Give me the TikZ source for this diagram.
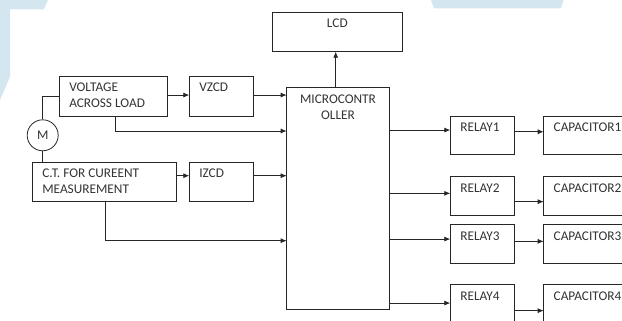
\documentclass[tikz,border=0pt]{standalone}
\usepackage{fontspec}
\setmainfont{Carlito}
\usetikzlibrary{arrows.meta}
\definecolor{wmblue}{RGB}{212,230,240}
\newcommand{\blocktext}[3]{\parbox[t][#2][t]{#1}{\raggedright\rule{0pt}{15.3pt}#3}}
\newcommand{\blockmid}[3]{\parbox[t][#2][t]{#1}{\centering\rule{0pt}{15.3pt}#3}}
\tikzset{
  block/.style={draw=black!85, line width=0.8pt, anchor=north west, inner xsep=10pt, inner ysep=0pt, outer sep=0pt, text=black!80, font=\fontsize{13.3}{16}\selectfont},
  arr/.style={draw=black!85, line width=0.8pt, -{Latex[length=6pt,width=5pt]}},
  wire/.style={draw=black!85, line width=0.8pt}
}
\begin{document}
\begin{tikzpicture}[x=1pt, y=-1pt]
\useasboundingbox (0,0) rectangle (622,321);
\clip (0,0) rectangle (622,321);
% watermark
\fill[wmblue] (0,0)--(48,0)--(44,9.3)--(10,9.3)--(10,77)--(0,100)--cycle;
\fill[wmblue] (431,0)--(563.5,0)--(561,8.3)--(434,8.3)--cycle;

% input side
\node[block] (volt) at (59.3,76.7) {\blocktext{88.4pt}{39.3pt}{VOLTAGE\\ACROSS LOAD}};
\node[block] (vzcd) at (189.3,76.7) {\blocktext{44pt}{39.3pt}{VZCD}};
\node[block] (ct) at (32.3,162.3) {\blocktext{124.4pt}{39.4pt}{C.T. FOR CUREENT\\MEASUREMENT}};
\node[block] (izcd) at (189.3,162.3) {\blocktext{44pt}{39.4pt}{IZCD}};
\node[draw=black!85, line width=0.8pt, circle, minimum size=31pt, inner sep=0pt, text=black!80, font=\fontsize{13.3}{16}\selectfont] (motor) at (42.7,135.3) {M};

% controller and display
\node[block] (micro) at (286.7,87.7) {\blockmid{82.6pt}{221.6pt}{MICROCONTR\\[1pt]OLLER}};
\node[block] (lcd) at (272.7,12.3) {\blockmid{109.3pt}{39.4pt}{LCD}};

% relays and capacitors
\node[block] (relay1) at (450.3,116) {\blocktext{44.4pt}{38.7pt}{RELAY1}};
\node[block] (relay2) at (450.3,176.7) {\blocktext{44.4pt}{38.7pt}{RELAY2}};
\node[block] (relay3) at (450.3,224.7) {\blocktext{44.4pt}{38.7pt}{RELAY3}};
\node[block] (relay4) at (450.3,284.7) {\blocktext{44.4pt}{38.7pt}{RELAY4}};
\node[block] (cap1) at (543.7,116) {\blocktext{80pt}{38.7pt}{CAPACITOR1}};
\node[block] (cap2) at (543.7,176.7) {\blocktext{80pt}{38.7pt}{CAPACITOR2}};
\node[block] (cap3) at (543.7,224.7) {\blocktext{80pt}{38.7pt}{CAPACITOR3}};
\node[block] (cap4) at (543.7,284.7) {\blocktext{80pt}{38.7pt}{CAPACITOR4}};

% connections
\draw[wire] (motor.north) |- (volt.west);
\draw[wire] (motor.south) -- (motor.south |- ct.north);
\draw[arr] ([yshift=1.3pt]volt.east) -- ([yshift=1.3pt]vzcd.west);
\draw[arr] ([yshift=1.3pt]vzcd.east) -- ([yshift=1.3pt]vzcd.east -| micro.west);
\draw[arr] ([xshift=2.2pt]volt.south) |- ([yshift=-43.3pt]micro.north west);
\draw[arr] ([yshift=6.3pt]ct.east) -- ([yshift=6.3pt]izcd.west);
\draw[arr] ([yshift=6.3pt]izcd.east) -- ([yshift=6.3pt]izcd.east -| micro.west);
\draw[arr] ([xshift=0.8pt]ct.south) |- ([yshift=-153pt]micro.north west);
\draw[arr] ([xshift=-2.3pt]micro.north) -- ([xshift=-2.3pt]micro.north |- lcd.south);

\draw[arr] ([yshift=5.3pt]relay1.west -| micro.east) -- ([yshift=5.3pt]relay1.west);
\draw[arr] ([yshift=2.7pt]relay2.west -| micro.east) -- ([yshift=2.7pt]relay2.west);
\draw[arr] ([yshift=5pt]relay3.west -| micro.east) -- ([yshift=5pt]relay3.west);
\draw[arr] ([yshift=1pt]relay4.west -| micro.east) -- ([yshift=1pt]relay4.west);
\draw[arr] ([yshift=3.6pt]relay1.east) -- ([yshift=3.6pt]cap1.west);
\draw[arr] ([yshift=-5.6pt]relay2.east) -- ([yshift=-5.6pt]cap2.west);
\draw[arr] ([yshift=2.7pt]relay3.east) -- ([yshift=2.7pt]cap3.west);
\draw[arr] ([yshift=-6.6pt]relay4.east) -- ([yshift=-6.6pt]cap4.west);
\end{tikzpicture}
\end{document}
